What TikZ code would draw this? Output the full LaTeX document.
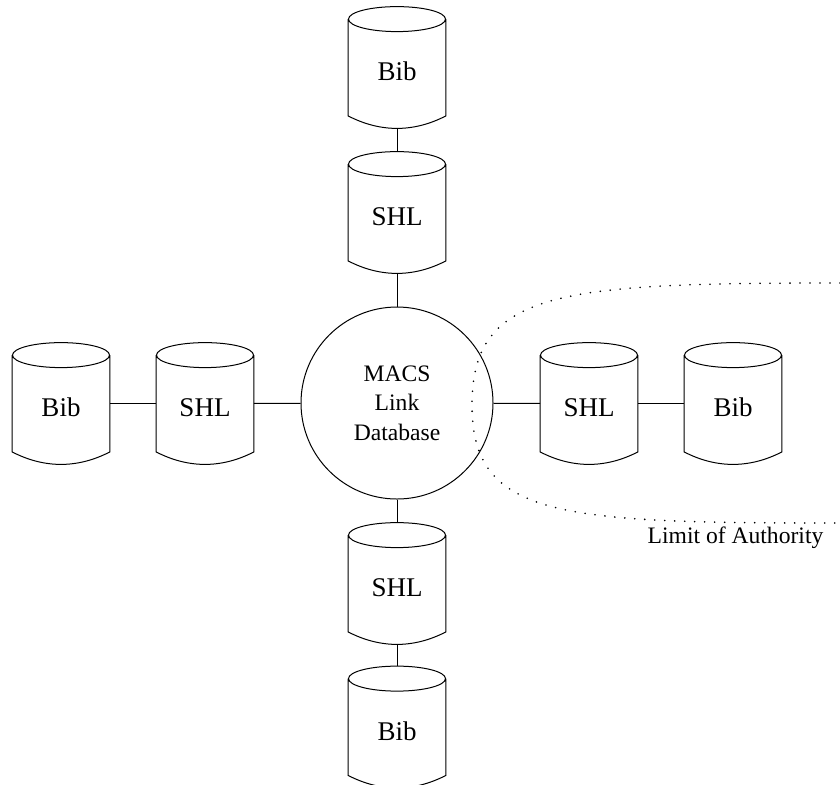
\documentclass[tikz,border=0pt]{standalone}
\usepackage{fontspec}
\setmainfont{Liberation Serif}

\begin{document}
\begin{tikzpicture}[x=0.5pt, y=-0.5pt,
      store/.style={minimum width=48.5pt, minimum height=60.5pt, inner sep=0pt,
        text height=13.4pt, text depth=0pt, font=\fontsize{13.5}{16}\selectfont},
      hub/.style={draw, line width=0.5pt, circle, minimum size=96pt, inner sep=0pt,
        align=center, font=\fontsize{11.8}{14.75}\selectfont},
      link/.style={line width=0.5pt}]
      \useasboundingbox (0,0) rectangle (840,784);
      \node[hub] (macs) at (397,403) {MACS\\Link\\Database};
      \node[store] (shlN) at (397,212.5) {SHL};
      \node[store] (bibN) at (397,67.5) {Bib};
      \node[store] (shlS) at (397,583.5) {SHL};
      \node[store] (bibS) at (397,727) {Bib};
      \node[store] (shlW) at (205,403.5) {SHL};
      \node[store] (bibW) at (61,403.5) {Bib};
      \node[store] (shlE) at (589,403.5) {SHL};
      \node[store] (bibE) at (733,403.5) {Bib};
      \foreach \s in {bibN,shlN,bibS,shlS,bibW,shlW,bibE,shlE}
        \draw[link] ([yshift=-6.25pt]\s.north) ellipse [x radius=24.25pt, y radius=6.25pt]
          ([yshift=-6.25pt]\s.north west) -- ([yshift=6.25pt]\s.south west)
          .. controls ([xshift=16.17pt, yshift=-2.08pt]\s.south west)
          and ([xshift=-16.17pt, yshift=-2.08pt]\s.south east)
          .. ([yshift=6.25pt]\s.south east)
          -- ([yshift=-6.25pt]\s.north east);
      \draw[link] (bibN) -- (shlN);
      \draw[link] (shlN) -- (macs);
      \draw[link] (macs) -- (shlS);
      \draw[link] (shlS) -- (bibS);
      \draw[link] (bibW) -- (shlW);
      \draw[link] (shlW) -- (macs);
      \draw[link] (macs) -- (shlE);
      \draw[link] (shlE) -- (bibE);
      \draw[line width=0.9pt, line cap=round, dash pattern=on 0pt off 5pt]
        (840,283) .. controls (560,283) and (472,290) .. (472,405)
        .. controls (472,518) and (560,523) .. (840,523);
      \node[font=\fontsize{11.8}{14}\selectfont] (limit) at (735.5,538) {Limit of Authority};
\end{tikzpicture}
\end{document}
